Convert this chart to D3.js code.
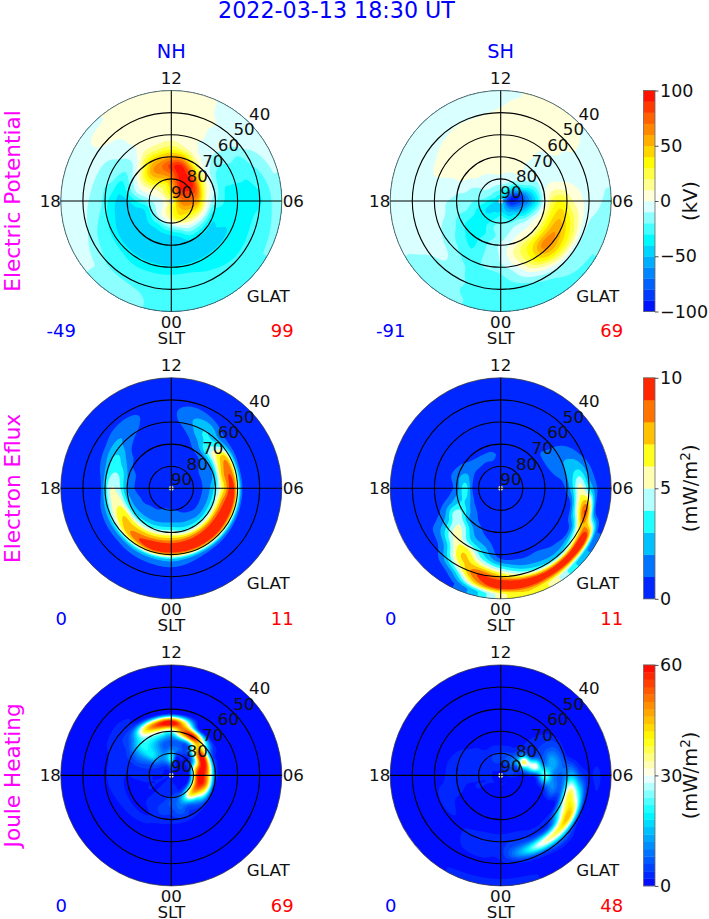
<!DOCTYPE html>
<html>
<head>
<meta charset="utf-8">
<script src="https://cdn.jsdelivr.net/npm/d3@7"></script>
<style>
  html, body { margin: 0; padding: 0; background: #fff; }
  svg { display: block; }
  text { font-family: "DejaVu Sans", sans-serif; }
</style>
</head>
<body>
<div id="chart"></div>
<script>
// values, grid axes
var latRows = [90, 86, 82, 78, 74, 70, 66, 62, 58, 54, 50, 46, 42];
var latRings = [80, 70, 60, 50];
var latLabels = [90, 80, 70, 60, 50, 40];
var sltLabels = [['12', 12], ['06', 6], ['18', 18], ['00', 0]];
var hemispheres = ['NH', 'SH'];
var rowNames = ['Electric Potential', 'Electron Eflux', 'Joule Heating'];

// colorbars
var potentialLevels = d3.range(-100, 101, 10);
var efluxLevels = d3.range(0, 11, 1);
var jouleLevels = d3.range(0, 61, 2);
var potentialTicks = [-100, -50, 0, 50, 100];
var efluxTicks = [0, 5, 10];
var jouleTicks = [0, 30, 60];

// min / max printed under each map
var minLabels = [['-49', '-91'], ['0', '0'], ['0', '0']];
var maxLabels = [['99', '69'], ['11', '11'], ['69', '48']];

// potential in kV: one row per latitude, one column per SLT hour 0..23
var potentialNH = [
  [20, 20, 20, 20, 20, 20, 20, 20, 20, 20, 20, 20, 20, 20, 20, 20, 20, 20, 20, 20, 20, 20, 20, 20],
  [25, 32, 38, 45, 52, 58, 62, 68, 72, 75, 68, 55, 42, 32, 25, 18, 8, 3, 0, 0, 2, 5, 12, 20],
  [15, 30, 38, 42, 50, 60, 68, 78, 88, 95, 92, 75, 55, 35, 25, 15, 5, 0, -8, -12, -10, -5, 0, 5],
  [-18, -8, 5, 15, 25, 40, 55, 70, 85, 98, 98, 90, 70, 60, 50, 35, 12, -3, -20, -36, -36, -30, -30, -24],
  [-42, -36, -20, -15, -8, 0, 5, 15, 30, 50, 75, 95, 85, 70, 60, 35, 8, -8, -30, -43, -45, -45, -45, -44],
  [-47, -45, -40, -38, -38, -34, -18, -10, -5, 5, 25, 55, 55, 50, 40, 10, -10, -24, -42, -45, -46, -48, -48, -48],
  [-48, -47, -45, -42, -40, -34, -30, -28, -22, -8, 2, 15, 25, 20, 15, -8, -22, -36, -42, -44, -46, -47, -48, -48],
  [-44, -43, -42, -42, -41, -36, -34, -30, -24, -12, -2, 3, 8, 6, 3, -9, -15, -22, -32, -36, -40, -42, -43, -43],
  [-32, -32, -34, -34, -34, -33, -34, -30, -22, -10, -1, 4, 6, 5, 3, -5, -13, -18, -18, -24, -28, -30, -32, -32],
  [-28, -28, -30, -32, -32, -32, -32, -30, -24, -8, -1, 3, 5, 5, 4, -3, -8, -10, -12, -17, -24, -28, -28, -28],
  [-24, -24, -26, -28, -28, -26, -31, -26, -15, -4, 0, 4, 5, 5, 5, 3, -3, -6, -7, -9, -14, -22, -24, -24],
  [-22, -24, -24, -24, -24, -24, -24, -18, -10, -4, -1, 3, 5, 5, 5, 4, -2, -4, -5, -6, -9, -12, -16, -21],
  [-24, -24, -24, -23, -20, -18, -12, -10, -6, -3, -1, 2, 3, 3, 2, -1, -2, -3, -4, -5, -8, -11, -14, -20]
];

var potentialSH = [
  [-42, -42, -42, -42, -42, -42, -42, -42, -42, -42, -42, -42, -42, -42, -42, -42, -42, -42, -42, -42, -42, -42, -42, -42],
  [-42, -46, -52, -60, -72, -85, -90, -88, -72, -52, -42, -32, -24, -24, -24, -24, -24, -30, -36, -40, -42, -42, -42, -44],
  [-24, -30, -40, -44, -58, -72, -85, -90, -65, -44, -20, -10, -8, -8, -8, -9, -12, -15, -24, -34, -40, -40, -36, -30],
  [-14, -15, -14, -18, -35, -50, -65, -58, -30, -12, -5, -3, 0, -1, -5, -8, -10, -15, -20, -28, -32, -32, -30, -20],
  [-15, -8, -3, -3, -6, -22, -38, -30, -15, -3, 2, 5, 6, 6, 5, 3, -6, -10, -14, -20, -30, -34, -32, -24],
  [-8, 2, 12, 10, 12, 8, -1, -4, -8, -7, 2, 6, 7, 7, 6, 5, 2, -8, -12, -18, -28, -32, -30, -18],
  [-8, 12, 30, 42, 40, 35, 25, 5, -6, -5, 4, 6, 8, 8, 7, 6, 2, -5, -10, -12, -19, -28, -30, -18],
  [-10, 8, 35, 65, 60, 48, 30, 3, -5, -4, 4, 7, 8, 8, 7, 6, 3, -3, -8, -9, -13, -20, -28, -18],
  [-18, -3, 28, 50, 45, 32, 12, 0, -3, 2, 6, 7, 8, 8, 7, 5, 3, -2, -6, -8, -9, -12, -21, -21],
  [-24, -12, 2, 20, 22, 12, 3, -2, -2, 2, 6, 7, 8, 7, 6, 2, -2, -4, -5, -6, -7, -9, -18, -26],
  [-28, -24, -16, -10, -9, -8, -5, -4, -1, 3, 6, 5, 2, -1, -1, -4, -5, -6, -5, -6, -8, -12, -17, -24],
  [-28, -28, -24, -17, -14, -13, -8, -5, -2, 3, 6, 5, -1, -3, -4, -5, -6, -7, -6, -6, -9, -14, -18, -24],
  [-28, -28, -26, -22, -20, -18, -12, -8, -4, 1, 4, 1, -3, -4, -5, -5, -6, -6, -6, -7, -10, -14, -17, -22]
];

// electron energy flux in mW/m2: one row per SLT hour, one column per latitude
var efluxNH = [
  [0.5, 0.5, 0.8, 1.4, 2.2, 4.8, 8.3, 10.5, 3, 0.9, 0.2, 0, 0],
  [0.5, 0.5, 0.7, 1.2, 2, 4.2, 8.5, 10.5, 2.5, 0.7, 0.2, 0, 0],
  [0.5, 0.5, 0.6, 0.9, 1.8, 4, 8.8, 10.5, 2, 0.5, 0.2, 0, 0],
  [0.5, 0.4, 0.5, 0.8, 1.5, 4, 9, 10.5, 1.8, 0.4, 0.1, 0, 0],
  [0.5, 0.4, 0.5, 0.8, 1.5, 4.2, 9, 10, 1.5, 0.3, 0.1, 0, 0],
  [0.5, 0.4, 0.5, 0.8, 1.5, 4, 8.5, 10, 1.3, 0.3, 0, 0, 0],
  [0.5, 0.4, 0.5, 0.8, 1.4, 3.5, 7, 9.5, 1.2, 0.3, 0, 0, 0],
  [0.5, 0.4, 0.5, 0.8, 1.3, 2.5, 7.5, 8.5, 1.1, 0.3, 0, 0, 0],
  [0.5, 0.4, 0.5, 0.8, 1.2, 2, 6, 7.5, 1.5, 0.4, 0, 0, 0],
  [0.5, 0.4, 0.5, 0.7, 0.9, 1.5, 4.5, 3.5, 1.5, 0.4, 0, 0, 0],
  [0.5, 0.4, 0.4, 0.5, 0.6, 1, 2, 3, 2.7, 1.2, 0.3, 0, 0],
  [0.5, 0.4, 0.4, 0.4, 0.4, 0.5, 0.7, 1.3, 1.8, 1.5, 0.5, 0, 0],
  [0.5, 0.4, 0.4, 0.4, 0.4, 0.4, 0.4, 0.5, 0.7, 0.7, 0.2, 0, 0],
  [0.5, 0.4, 0.4, 0.4, 0.4, 0.4, 0.3, 0.3, 0.4, 0.5, 0.2, 0, 0],
  [0.5, 0.4, 0.4, 0.4, 0.4, 0.5, 0.5, 0.7, 1.2, 1.3, 0.4, 0, 0],
  [0.5, 0.4, 0.4, 0.5, 0.6, 0.7, 0.8, 1.5, 2, 1.3, 0.3, 0, 0],
  [0.5, 0.4, 0.5, 0.6, 0.8, 1, 2.2, 3.2, 2.2, 0.7, 0.1, 0, 0],
  [0.5, 0.4, 0.5, 0.7, 0.9, 1.8, 3.8, 3.8, 1.5, 0.4, 0, 0, 0],
  [0.5, 0.4, 0.5, 0.7, 0.9, 2, 4.5, 4.8, 0.9, 0.3, 0, 0, 0],
  [0.5, 0.4, 0.5, 0.8, 1.2, 2.5, 5.5, 5, 1.5, 0.4, 0, 0, 0],
  [0.5, 0.4, 0.6, 0.9, 1.3, 3, 6.8, 6, 1.8, 0.5, 0, 0, 0],
  [0.5, 0.4, 0.6, 1, 1.5, 3.5, 7, 7.5, 2, 0.6, 0.1, 0, 0],
  [0.5, 0.5, 0.7, 1.1, 1.7, 4, 7.5, 9, 2.5, 0.7, 0.2, 0, 0],
  [0.5, 0.5, 0.8, 1.4, 2, 4.5, 8, 10.5, 2.8, 0.8, 0.2, 0, 0]
];

var efluxSH = [
  [0.3, 0.3, 0.3, 0.3, 0.3, 0.3, 0.3, 0.3, 1, 3.8, 7.5, 10.5, 5.5],
  [0.3, 0.3, 0.3, 0.3, 0.3, 0.3, 0.3, 0.4, 0.8, 2, 5, 10.5, 7],
  [0.3, 0.3, 0.3, 0.3, 0.3, 0.3, 0.3, 0.3, 0.9, 1.5, 3.5, 10, 5.5],
  [0.3, 0.3, 0.3, 0.3, 0.3, 0.3, 0.3, 0.3, 0.7, 1.2, 3.5, 10.5, 3],
  [0.3, 0.3, 0.3, 0.3, 0.3, 0.3, 0.3, 0.3, 0.5, 1.2, 6, 10, 1.5],
  [0.3, 0.3, 0.3, 0.3, 0.3, 0.3, 0.3, 0.3, 0.5, 5.5, 9, 1.5, 0.3],
  [0.3, 0.3, 0.3, 0.3, 0.3, 0.3, 0.3, 0.6, 2.5, 5.5, 3.2, 0.9, 0.2],
  [0.3, 0.3, 0.3, 0.3, 0.3, 0.4, 0.9, 1.5, 2.4, 2.8, 1.5, 0.3, 0],
  [0.3, 0.3, 0.3, 0.3, 0.3, 0.4, 1.2, 1.6, 1.6, 1.1, 0.3, 0, 0],
  [0.3, 0.3, 0.3, 0.3, 0.3, 0.5, 0.9, 0.6, 0.3, 0.1, 0, 0, 0],
  [0.3, 0.3, 0.3, 0.3, 0.3, 0.3, 0.3, 0.2, 0.1, 0, 0, 0, 0],
  [0.3, 0.3, 0.3, 0.3, 0.3, 0.3, 0.2, 0.1, 0, 0, 0, 0, 0],
  [0.3, 0.3, 0.3, 0.6, 0.8, 0.3, 0.1, 0, 0, 0, 0, 0, 0],
  [0.3, 0.3, 0.3, 0.9, 1.1, 0.5, 0.1, 0, 0, 0, 0, 0, 0],
  [0.3, 0.3, 0.4, 0.8, 1.2, 0.3, 0.1, 0, 0, 0, 0, 0, 0],
  [0.3, 0.3, 0.4, 0.8, 1.3, 0.6, 0.2, 0, 0, 0, 0, 0, 0],
  [0.3, 0.3, 0.4, 0.6, 1.6, 1.2, 0.4, 0.1, 0, 0, 0, 0, 0],
  [0.3, 0.3, 0.4, 0.6, 2.5, 1.8, 0.8, 0.3, 0, 0, 0, 0, 0],
  [0.3, 0.3, 0.4, 0.5, 3.5, 1.5, 0.5, 0.2, 0, 0, 0, 0, 0],
  [0.3, 0.3, 0.4, 0.6, 3, 2.6, 1.6, 0.8, 0.3, 0, 0, 0, 0],
  [0.3, 0.3, 0.3, 0.5, 2, 3.8, 4.5, 2.5, 1.5, 0.9, 0.2, 0, 0],
  [0.3, 0.3, 0.3, 0.4, 1.2, 2, 4.5, 5.5, 4.5, 2.2, 1, 0.4, 0],
  [0.3, 0.3, 0.3, 0.3, 0.6, 1.2, 2, 3.5, 6.5, 7, 5, 2, 0.6],
  [0.3, 0.3, 0.3, 0.3, 0.3, 0.6, 1.1, 2.2, 3.5, 6, 9, 7.5, 2.5]
];

// joule heating in mW/m2: one row per SLT hour, one column per latitude
var jouleNH = [
  [2, 3, 3, 7, 5, 3, 1, 0, 0, 0, 0, 0, 0],
  [2, 2, 4, 9, 8, 4, 0.5, 0, 0, 0, 0, 0, 0],
  [2, 2, 3, 20, 6, 3, 0.5, 0, 0, 0, 0, 0, 0],
  [2, 2, 4, 40, 15, 3, 0.5, 0, 0, 0, 0, 0, 0],
  [2, 2, 4, 50, 35, 4, 0.5, 0, 0, 0, 0, 0, 0],
  [2, 1.5, 3, 55, 50, 4, 0.5, 0, 0, 0, 0, 0, 0],
  [2, 1, 3, 58, 50, 6, 1, 0, 0, 0, 0, 0, 0],
  [2, 1, 2, 48, 58, 8, 1.2, 0, 0, 0, 0, 0, 0],
  [2, 1, 2, 20, 62, 12, 1.5, 0, 0, 0, 0, 0, 0],
  [2, 1, 2, 6, 45, 35, 3, 0.3, 0, 0, 0, 0, 0],
  [2, 2, 2, 5, 12, 60, 6, 0.5, 0, 0, 0, 0, 0],
  [2, 4, 3, 8, 10, 50, 40, 1.5, 0, 0, 0, 0, 0],
  [2, 8, 22, 10, 8, 25, 62, 1.5, 0, 0, 0, 0, 0],
  [2, 5, 14, 8, 10, 28, 55, 2, 0, 0, 0, 0, 0],
  [2, 3, 10, 14, 16, 25, 40, 4, 1, 0, 0, 0, 0],
  [2, 2, 8, 18, 20, 20, 12, 4, 3, 0.5, 0, 0, 0],
  [2, 2, 5, 8, 10, 8, 4, 3.5, 2.5, 0.3, 0, 0, 0],
  [2, 2, 3, 4, 4, 3, 3, 2.5, 1, 0, 0, 0, 0],
  [2, 2, 2, 3, 2.5, 2, 2.5, 2.5, 0.3, 0, 0, 0, 0],
  [2, 2, 2, 2, 1.5, 1.5, 2.5, 2, 0.3, 0, 0, 0, 0],
  [2, 2, 2, 2, 1.5, 1.5, 2.5, 1.5, 0, 0, 0, 0, 0],
  [2, 2, 2, 2, 2, 1.5, 2.5, 1, 0, 0, 0, 0, 0],
  [2, 3, 3, 3, 3, 2, 2.2, 0.5, 0, 0, 0, 0, 0],
  [2, 3, 3, 4, 5, 3, 1.5, 0.5, 0, 0, 0, 0, 0]
];

var jouleSH = [
  [1, 2, 1, 0.5, 0.5, 0.5, 1, 2.5, 3.5, 3, 1.5, 0.5, 2.5],
  [1, 2, 1, 1, 0.5, 0.5, 1, 3, 6, 14, 3, 0.5, 2.5],
  [1, 1.5, 1, 1, 0.5, 0.5, 1, 2, 6, 30, 6, 0.5, 1],
  [1, 1.5, 1, 1, 0.5, 0.5, 1, 2, 8, 38, 10, 0.8, 0.3],
  [1, 1.5, 1, 1, 0.5, 0.5, 1, 2.5, 30, 45, 5, 0.6, 0],
  [1, 1.5, 1, 1, 1, 5, 10, 8, 38, 25, 2, 1.5, 0],
  [1, 4, 2, 3, 6, 25, 10, 8, 15, 6, 2, 2.5, 0.3],
  [1, 6, 4, 18, 32, 10, 14, 8, 2, 0.5, 0.5, 0.5, 0],
  [1, 5, 6, 38, 8, 5, 6, 5, 1, 0, 0, 0, 0],
  [1, 4, 10, 12, 4, 3, 2.5, 1.5, 0, 0, 0, 0, 0],
  [1, 3, 8, 4, 1.5, 1, 0.5, 0, 0, 0, 0, 0, 0],
  [1, 3, 6, 3, 1, 0, 0, 0, 0, 0, 0, 0, 0],
  [1, 3, 5, 3, 0.5, 0, 0, 0, 0, 0, 0, 0, 0],
  [1, 3, 5, 3, 1, 0, 0, 0, 0, 0, 0, 0, 0],
  [1, 3, 4, 2.5, 1, 0, 0, 0, 0, 0, 0, 0, 0],
  [1, 2.5, 3.5, 3, 2.5, 1, 0.5, 0, 0, 0, 0, 0, 0],
  [1, 2, 3, 3, 3, 2.5, 1.5, 0.3, 0, 0, 0, 0, 0],
  [1, 2, 3, 3, 3, 2.5, 2.2, 0.5, 0, 0, 0, 0, 0],
  [1, 2, 2.5, 2.5, 3, 3, 2.5, 0.5, 0, 0, 0, 0, 0],
  [1, 2, 2, 2, 2, 3, 2.5, 2.5, 0.5, 0, 0, 0, 0],
  [1, 2, 2, 2, 1, 1.5, 2, 2.5, 0.5, 0, 0, 0, 0],
  [1, 2, 1.5, 1, 1, 1, 1.5, 1.8, 0.5, 0, 0, 0, 0],
  [1, 2, 1, 0.8, 0.6, 0.5, 1, 2, 2.5, 2, 1, 0.5, 2],
  [1, 2, 1, 0.7, 0.5, 0.5, 1, 2.5, 3, 3, 1, 0.5, 2.5]
];

var width = 709;
var height = 919;
var radius = 110.5;
var columnX = [171.3, 500.7];
var rowY = [201, 488.3, 775.4];
var barX = 643.5;
var barWidth = 11.5;

var rows = [
  { levels: potentialLevels, ticks: potentialTicks, unit: '(kV)', fields: [potentialNH, potentialSH] },
  { levels: efluxLevels, ticks: efluxTicks, unit: '(mW/m2)', fields: [d3.transpose(efluxNH), d3.transpose(efluxSH)] },
  { levels: jouleLevels, ticks: jouleTicks, unit: '(mW/m2)', fields: [d3.transpose(jouleNH), d3.transpose(jouleSH)] }
];

// 青→シアン→白→黄→赤
var colormap = d3.scaleLinear()
  .domain([0, 0.33, 0.5, 0.67, 1])
  .range(['#0000ff', '#00ffff', '#ffffff', '#ffff00', '#ff0000']);

var rScale = d3.scaleLinear().domain([90, 40]).range([0, radius]);
var hourScale = d3.scaleLinear().domain([0, 24]).range([0, 2 * Math.PI]);
var latIndex = d3.scaleLinear().domain([latRows[0], latRows[latRows.length - 1]]).range([0, latRows.length - 1]);

var svg = d3.select('#chart').append('svg').attr('width', width).attr('height', height);

svg.append('text')
  .attr('x', 336.5).attr('y', 18)
  .attr('text-anchor', 'middle').attr('font-size', 22.2).attr('fill', '#0000ff')
  .text('2022-03-13 18:30 UT');

hemispheres.forEach(function(name, i) {
  svg.append('text')
    .attr('x', columnX[i]).attr('y', 57.5)
    .attr('text-anchor', 'middle').attr('font-size', 19.3).attr('fill', '#0000ff')
    .text(name);
});

function catmull(a, b, c, d, t) {
  return b + 0.5 * t * (c - a + t * (2 * a - 5 * b + 4 * c - d + t * (3 * (b - c) + d - a)));
}

// 表の値を極座標で読む（経度方向は周期的）
function sampleField(field, lat, hour) {
  var n = latRows.length;
  var fy = Math.max(0, Math.min(n - 1, latIndex(lat)));
  var y1 = Math.min(n - 2, Math.floor(fy));
  var ty = fy - y1;
  var x1 = Math.floor(hour);
  var tx = hour - x1;
  var col = [];
  for (var k = -1; k <= 2; k++) {
    var v = [];
    for (var j = -1; j <= 2; j++) {
      var row = field[Math.max(0, Math.min(n - 1, y1 + j))];
      v.push(row[(x1 + k + 48) % 24]);
    }
    col.push(catmull(v[0], v[1], v[2], v[3], ty));
  }
  return catmull(col[0], col[1], col[2], col[3], tx);
}

// ディスク全体を覆う正方格子に展開して d3.contours に渡す
function rasterize(field, size) {
  var values = new Array(size * size);
  for (var iy = 0; iy < size; iy++) {
    for (var ix = 0; ix < size; ix++) {
      var dx = ix + 0.5 - size / 2;
      var dy = iy + 0.5 - size / 2;
      var r = Math.min(radius, Math.sqrt(dx * dx + dy * dy));
      var a = Math.atan2(dx, dy);
      if (a < 0) a += 2 * Math.PI;
      values[iy * size + ix] = sampleField(field, rScale.invert(r), hourScale.invert(a) % 24);
    }
  }
  return values;
}

function drawMap(g, row, rowIndex, colIndex) {
  var levels = row.levels;
  var span = levels[levels.length - 1] - levels[0];
  var size = Math.ceil(radius * 2) + 4;
  var values = rasterize(row.fields[colIndex], size);
  var clipId = 'clip' + rowIndex + colIndex;

  g.append('clipPath').attr('id', clipId).append('circle').attr('r', radius);

  var bands = levels.slice(0, -1);
  var contours = d3.contours().size([size, size]).thresholds(bands)(values);
  var mapLayer = g.append('g').attr('clip-path', 'url(#' + clipId + ')');

  mapLayer.append('circle').attr('r', radius)
    .attr('fill', colormap((bands[0] + levels[1]) / 2 / span - levels[0] / span));

  mapLayer.append('g')
    .attr('transform', 'translate(' + (-size / 2) + ',' + (-size / 2) + ')')
    .selectAll('path')
    .data(contours)
    .enter()
    .append('path')
    .attr('d', d3.geoPath())
    .attr('fill', function(d, i) {
      return colormap(((levels[i] + levels[i + 1]) / 2 - levels[0]) / span);
    })
    .attr('stroke', 'none');

  // 極の白い点
  g.append('circle').attr('r', 2.3).attr('fill', '#fff').attr('stroke', '#bbb').attr('stroke-width', 0.6);

  g.selectAll('.ring')
    .data(latRings)
    .enter()
    .append('circle')
    .attr('class', 'ring')
    .attr('r', function(d) { return rScale(d); })
    .attr('fill', 'none').attr('stroke', '#000').attr('stroke-width', 1.1);

  g.append('circle').attr('r', radius)
    .attr('fill', 'none').attr('stroke', '#444').attr('stroke-width', 0.8);

  g.selectAll('.spoke')
    .data([0, 6])
    .enter()
    .append('line')
    .attr('x1', function(d) { return -radius * Math.sin(hourScale(d)); })
    .attr('y1', function(d) { return -radius * Math.cos(hourScale(d)); })
    .attr('x2', function(d) { return radius * Math.sin(hourScale(d)); })
    .attr('y2', function(d) { return radius * Math.cos(hourScale(d)); })
    .attr('stroke', '#000').attr('stroke-width', 1.1);

  // 緯度ラベルは45度方向に並べる
  g.selectAll('.latLabel')
    .data(latLabels)
    .enter()
    .append('text')
    .attr('x', function(d) { return (rScale(d) + 14.5) * Math.SQRT1_2; })
    .attr('y', function(d) { return -(rScale(d) + 13) * Math.SQRT1_2; })
    .attr('dy', '.36em')
    .attr('text-anchor', 'middle').attr('font-size', 16.7).attr('fill', '#111')
    .text(function(d) { return d; });

  g.selectAll('.sltLabel')
    .data(sltLabels)
    .enter()
    .append('text')
    .attr('x', function(d) {
      return d[1] === 6 ? 122 : (d[1] === 18 ? -121 : 0);
    })
    .attr('y', function(d) {
      return d[1] === 12 ? -123 : (d[1] === 0 ? 121 : 0);
    })
    .attr('dy', '.36em')
    .attr('text-anchor', 'middle').attr('font-size', 16.7).attr('fill', '#111')
    .text(function(d) { return d[0]; });

  g.append('text')
    .attr('x', 0).attr('y', 136.5).attr('dy', '.36em')
    .attr('text-anchor', 'middle').attr('font-size', 16.7).attr('fill', '#111')
    .text('SLT');

  g.append('text')
    .attr('x', 97).attr('y', 95).attr('dy', '.36em')
    .attr('text-anchor', 'middle').attr('font-size', 16.7).attr('fill', '#111')
    .text('GLAT');

  g.append('text')
    .attr('x', -110).attr('y', 130).attr('dy', '.36em')
    .attr('text-anchor', 'middle').attr('font-size', 18).attr('fill', '#0000ff')
    .text(minLabels[rowIndex][colIndex]);

  g.append('text')
    .attr('x', 111).attr('y', 130).attr('dy', '.36em')
    .attr('text-anchor', 'middle').attr('font-size', 18).attr('fill', '#ff0000')
    .text(maxLabels[rowIndex][colIndex]);
}

function drawColorbar(g, row) {
  var levels = row.levels;
  var lo = levels[0];
  var hi = levels[levels.length - 1];
  var y = d3.scaleLinear().domain([lo, hi]).range([radius, -radius]);

  g.selectAll('rect')
    .data(levels.slice(0, -1))
    .enter()
    .append('rect')
    .attr('x', 0)
    .attr('width', barWidth)
    .attr('y', function(d, i) { return y(levels[i + 1]); })
    .attr('height', function(d, i) { return y(d) - y(levels[i + 1]) + 0.3; })
    .attr('fill', function(d, i) {
      return colormap(((d + levels[i + 1]) / 2 - lo) / (hi - lo));
    });

  g.append('rect')
    .attr('y', -radius).attr('width', barWidth).attr('height', 2 * radius)
    .attr('fill', 'none').attr('stroke', '#666').attr('stroke-width', 0.8);

  var axis = d3.axisRight(y)
    .tickValues(row.ticks)
    .tickSize(3.5)
    .tickPadding(1.5)
    .tickFormat(function(d) { return String(d).replace('-', '\u2212'); });

  var axisG = g.append('g').attr('transform', 'translate(' + barWidth + ',0)').call(axis);
  axisG.select('.domain').remove();
  axisG.selectAll('text').attr('font-family', '"DejaVu Sans", sans-serif').attr('font-size', 17.5).attr('fill', '#111');
  axisG.selectAll('line').attr('stroke', '#222').attr('stroke-width', 0.8);

  var unit = g.append('text')
    .attr('transform', 'translate(' + (barWidth + 42) + ',0) rotate(-90)')
    .attr('text-anchor', 'middle').attr('font-size', 19.5).attr('fill', '#111');

  if (row.unit.indexOf('2') >= 0) {
    unit.append('tspan').text('(mW/m');
    unit.append('tspan').attr('dy', -7).attr('font-size', 13.6).text('2');
    unit.append('tspan').attr('dy', 7).text(')');
  } else {
    unit.text(row.unit);
  }
}

rows.forEach(function(row, rowIndex) {
  var cy = rowY[rowIndex];

  svg.append('text')
    .attr('transform', 'translate(20,' + cy + ') rotate(-90)')
    .attr('text-anchor', 'middle').attr('font-size', 21.6).attr('fill', '#ff00ff')
    .text(rowNames[rowIndex]);

  columnX.forEach(function(cx, colIndex) {
    var g = svg.append('g').attr('transform', 'translate(' + cx + ',' + cy + ')');
    drawMap(g, row, rowIndex, colIndex);
  });

  var bar = svg.append('g').attr('transform', 'translate(' + barX + ',' + cy + ')');
  drawColorbar(bar, row);
});
</script>
</body>
</html>
